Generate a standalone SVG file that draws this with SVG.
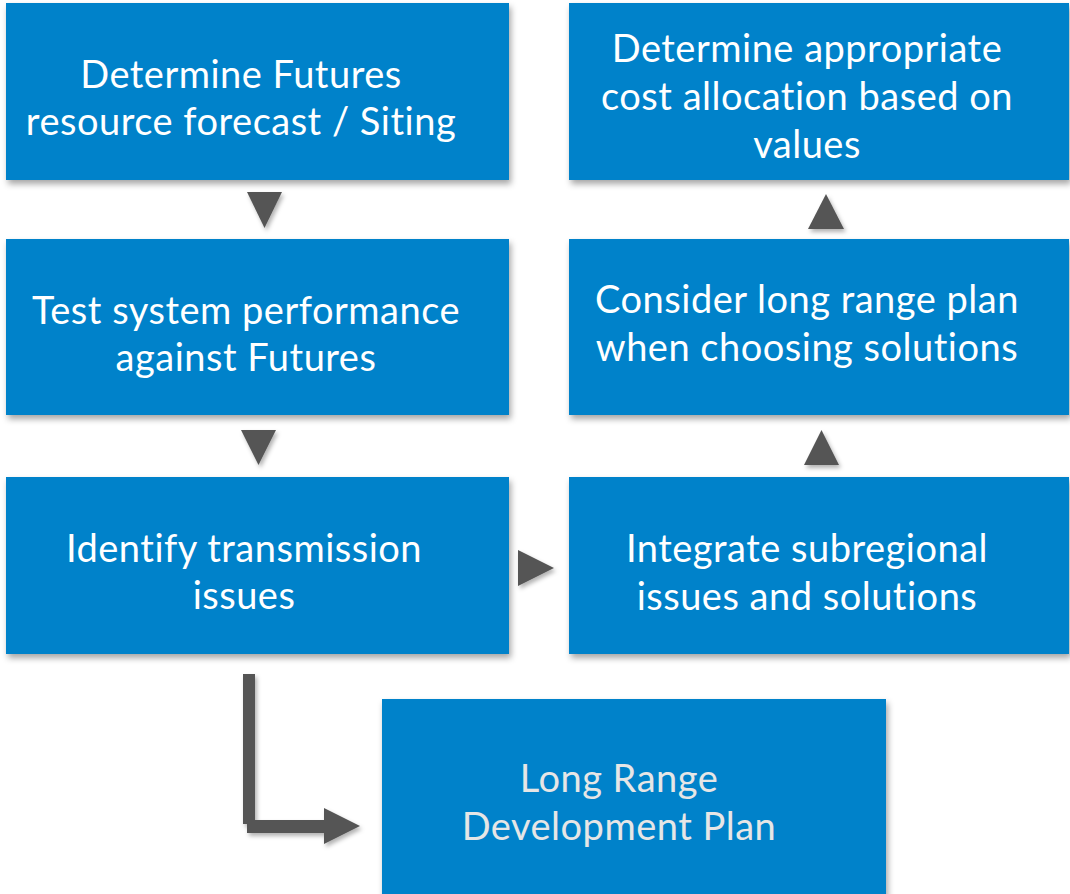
<svg xmlns="http://www.w3.org/2000/svg" width="1070" height="894" viewBox="0 0 1070 894">
<defs>
<filter id="sh" x="-10%" y="-10%" width="130%" height="140%">
<feDropShadow dx="2" dy="4" stdDeviation="3" flood-color="#000" flood-opacity="0.35"/>
</filter>
<filter id="ash" x="-30%" y="-30%" width="170%" height="170%">
<feDropShadow dx="2" dy="3" stdDeviation="2" flood-color="#000" flood-opacity="0.3"/>
</filter>
<style>
.box{fill:#0082CA;filter:url(#sh)}
.t{font-family:Lato,"Open Sans",sans-serif;font-size:38px;letter-spacing:0.5px;fill:#ffffff;text-anchor:middle}
.t2{fill:#E6E6E6}
.arr{fill:#555555;filter:url(#ash)}
</style>
</defs>
<rect width="1070" height="894" fill="#ffffff"/>
<g id="connectors">
<polygon class="arr" points="247,192 282,192 264.5,228"/>
<polygon class="arr" points="241,430 276,430 258.5,465"/>
<polygon class="arr" points="518,550 518,586 554,568"/>
<polygon class="arr" points="808,229 844,229 826,194"/>
<polygon class="arr" points="804,465 839,465 821.5,430"/>
<path class="arr" d="M243,674 H255 V820 H324 V808 L360,826 L324,844 V833 H247 V824 H243 Z"/>
</g>
<g id="n1">
<rect class="box" x="6" y="3" width="503" height="177"/>
<text class="t" x="241" y="88">Determine Futures</text>
<text class="t" x="241" y="135">resource forecast / Siting</text>
</g>
<g id="n2">
<rect class="box" x="6" y="239" width="503" height="176"/>
<text class="t" x="246" y="324">Test system performance</text>
<text class="t" x="246" y="371">against Futures</text>
</g>
<g id="n3">
<rect class="box" x="6" y="477" width="503" height="177"/>
<text class="t" x="244" y="562">Identify transmission</text>
<text class="t" x="244" y="609">issues</text>
</g>
<g id="n4">
<rect class="box" x="569" y="3" width="500" height="177"/>
<text class="t" x="807" y="62">Determine appropriate</text>
<text class="t" x="807" y="110">cost allocation based on</text>
<text class="t" x="807" y="158">values</text>
</g>
<g id="n5">
<rect class="box" x="569" y="239" width="500" height="176"/>
<text class="t" x="807" y="313">Consider long range plan</text>
<text class="t" x="807" y="361">when choosing solutions</text>
</g>
<g id="n6">
<rect class="box" x="569" y="477" width="500" height="177"/>
<text class="t" x="807" y="562">Integrate subregional</text>
<text class="t" x="807" y="610">issues and solutions</text>
</g>
<g id="n7">
<rect class="box" x="382" y="699" width="504" height="200"/>
<text class="t t2" x="619" y="792">Long Range</text>
<text class="t t2" x="619" y="840">Development Plan</text>
</g>
</svg>
